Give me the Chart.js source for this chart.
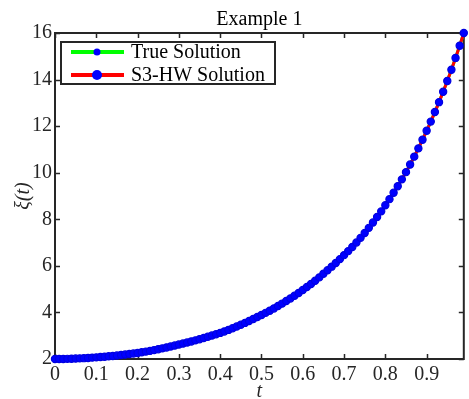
<!DOCTYPE html>
<html>
<head>
<meta charset="utf-8">
<script src="https://cdn.jsdelivr.net/npm/chart.js@4.4.0/dist/chart.umd.min.js"></script>
<style>
html, body { margin: 0; padding: 0; background: #fff; }
#wrap { width: 469px; height: 399px; }
</style>
</head>
<body>
<div id="wrap"><canvas id="solChart" width="469" height="399"></canvas></div>
<script>
// t values (grid of the solution)
const tValues = [
  0.00, 0.01, 0.02, 0.03, 0.04, 0.05, 0.06, 0.07, 0.08, 0.09,
  0.10, 0.11, 0.12, 0.13, 0.14, 0.15, 0.16, 0.17, 0.18, 0.19,
  0.20, 0.21, 0.22, 0.23, 0.24, 0.25, 0.26, 0.27, 0.28, 0.29,
  0.30, 0.31, 0.32, 0.33, 0.34, 0.35, 0.36, 0.37, 0.38, 0.39,
  0.40, 0.41, 0.42, 0.43, 0.44, 0.45, 0.46, 0.47, 0.48, 0.49,
  0.50, 0.51, 0.52, 0.53, 0.54, 0.55, 0.56, 0.57, 0.58, 0.59,
  0.60, 0.61, 0.62, 0.63, 0.64, 0.65, 0.66, 0.67, 0.68, 0.69,
  0.70, 0.71, 0.72, 0.73, 0.74, 0.75, 0.76, 0.77, 0.78, 0.79,
  0.80, 0.81, 0.82, 0.83, 0.84, 0.85, 0.86, 0.87, 0.88, 0.89,
  0.90, 0.91, 0.92, 0.93, 0.94, 0.95, 0.96, 0.97, 0.98, 0.99
];

// exact solution xi(t)
const trueSolution = [
  2.000, 2.001, 2.003, 2.007, 2.012, 2.019, 2.027, 2.036, 2.046, 2.058,
  2.070, 2.084, 2.099, 2.115, 2.132, 2.150, 2.170, 2.191, 2.213, 2.236,
  2.260, 2.288, 2.317, 2.348, 2.383, 2.420, 2.458, 2.497, 2.537, 2.578,
  2.620, 2.664, 2.708, 2.754, 2.801, 2.850, 2.901, 2.953, 3.007, 3.062,
  3.120, 3.184, 3.249, 3.320, 3.393, 3.470, 3.550, 3.632, 3.716, 3.802,
  3.890, 3.982, 4.075, 4.171, 4.274, 4.380, 4.488, 4.600, 4.716, 4.836,
  4.960, 5.090, 5.223, 5.360, 5.505, 5.660, 5.810, 5.965, 6.124, 6.290,
  6.460, 6.632, 6.812, 7.002, 7.202, 7.412, 7.632, 7.860, 8.096, 8.340,
  8.600, 8.865, 9.137, 9.420, 9.715, 10.025, 10.350, 10.690, 11.045, 11.415,
  11.800, 12.195, 12.605, 13.030, 13.475, 13.940, 14.425, 14.930, 15.455, 16.000
];

// S3-HW approximation (indistinguishable from the exact one at this scale)
const s3hwSolution = [
  2.000, 2.001, 2.003, 2.007, 2.012, 2.019, 2.027, 2.036, 2.046, 2.058,
  2.070, 2.084, 2.099, 2.115, 2.132, 2.150, 2.170, 2.191, 2.213, 2.236,
  2.260, 2.288, 2.317, 2.348, 2.383, 2.420, 2.458, 2.497, 2.537, 2.578,
  2.620, 2.664, 2.708, 2.754, 2.801, 2.850, 2.901, 2.953, 3.007, 3.062,
  3.120, 3.184, 3.249, 3.320, 3.393, 3.470, 3.550, 3.632, 3.716, 3.802,
  3.890, 3.982, 4.075, 4.171, 4.274, 4.380, 4.488, 4.600, 4.716, 4.836,
  4.960, 5.090, 5.223, 5.360, 5.505, 5.660, 5.810, 5.965, 6.124, 6.290,
  6.460, 6.632, 6.812, 7.002, 7.202, 7.412, 7.632, 7.860, 8.096, 8.340,
  8.600, 8.865, 9.137, 9.420, 9.715, 10.025, 10.350, 10.690, 11.045, 11.415,
  11.800, 12.195, 12.605, 13.030, 13.475, 13.940, 14.425, 14.930, 15.455, 16.000
];

const xTicks = [0, 0.1, 0.2, 0.3, 0.4, 0.5, 0.6, 0.7, 0.8, 0.9];
const yTicks = [2, 4, 6, 8, 10, 12, 14, 16];
const seriesNames = ['True Solution', 'S3-HW Solution'];

const axisColor = '#262626';
const fontFamily = '"Liberation Serif", "Times New Roman", serif';

function toPoints(xs, ys) {
    return xs.map((t, i) => ({ x: t, y: ys[i] }));
}

// box around the axes, inward ticks and the legend box
const framePlugin = {
    id: 'framePlugin',
    beforeDatasetsDraw(chart) {
        const { ctx, chartArea: a, scales } = chart;
        ctx.save();
        ctx.strokeStyle = axisColor;
        ctx.lineWidth = 1.5;
        ctx.beginPath();
        xTicks.forEach(v => {
            const px = Math.round(scales.x.getPixelForValue(v)) + 0.5;
            ctx.moveTo(px, a.bottom); ctx.lineTo(px, a.bottom - 5);
            ctx.moveTo(px, a.top); ctx.lineTo(px, a.top + 5);
        });
        yTicks.forEach(v => {
            const py = Math.round(scales.y.getPixelForValue(v)) + 0.5;
            ctx.moveTo(a.left, py); ctx.lineTo(a.left + 5, py);
            ctx.moveTo(a.right, py); ctx.lineTo(a.right - 5, py);
        });
        ctx.stroke();
        ctx.lineWidth = 2;
        ctx.strokeRect(a.left, a.top, a.right - a.left, a.bottom - a.top);
        ctx.restore();
    },
    afterDatasetsDraw(chart) {
        const { ctx, chartArea: a } = chart;
        const bx = a.left + 6, by = a.top + 9, bw = 214, bh = 42;
        ctx.save();
        ctx.fillStyle = '#fff';
        ctx.fillRect(bx, by, bw, bh);
        ctx.strokeStyle = axisColor;
        ctx.lineWidth = 2;
        ctx.strokeRect(bx, by, bw, bh);

        const rows = [
            { y: by + 10, line: '#00ff00', r: 3.5 },
            { y: by + 33, line: '#ff0000', r: 5 }
        ];
        rows.forEach((row, i) => {
            ctx.strokeStyle = row.line;
            ctx.lineWidth = 4;
            ctx.beginPath();
            ctx.moveTo(bx + 10, row.y);
            ctx.lineTo(bx + 63, row.y);
            ctx.stroke();
            ctx.fillStyle = '#0000ff';
            ctx.beginPath();
            ctx.arc(bx + 36, row.y, row.r, 0, Math.PI * 2);
            ctx.fill();
            ctx.fillStyle = '#000';
            ctx.font = '20px ' + fontFamily;
            ctx.textBaseline = 'middle';
            ctx.textAlign = 'left';
            ctx.fillText(seriesNames[i], bx + 70, row.y + 1);
        });
        ctx.restore();
    }
};

const ctx = document.getElementById('solChart').getContext('2d');
const chart = new Chart(ctx, {
    type: 'line',
    data: {
        datasets: [{
            label: seriesNames[0],
            data: toPoints(tValues, trueSolution),
            borderColor: '#00ff00',
            borderWidth: 3,
            pointRadius: 2,
            pointBackgroundColor: '#0000ff',
            pointBorderColor: '#0000ff',
            pointBorderWidth: 1,
            clip: false,
            order: 2
        }, {
            label: seriesNames[1],
            data: toPoints(tValues, s3hwSolution),
            borderColor: '#ff0000',
            borderWidth: 3,
            pointRadius: 3.6,
            pointBackgroundColor: '#0000ff',
            pointBorderColor: '#0000e0',
            pointBorderWidth: 1.2,
            clip: false,
            order: 1
        }]
    },
    options: {
        responsive: false,
        animation: false,
        devicePixelRatio: 1,
        layout: { padding: { top: 0, right: 2, bottom: 0, left: 0 } },
        plugins: {
            legend: { display: false },
            tooltip: { enabled: false },
            title: {
                display: true,
                text: 'Example 1',
                fullSize: false,
                color: '#000',
                font: { family: fontFamily, size: 20, weight: 'normal', lineHeight: 1.2 },
                padding: { top: 8, bottom: 1 }
            }
        },
        scales: {
            x: {
                type: 'linear',
                min: 0,
                max: 0.99,
                afterBuildTicks: s => { s.ticks = xTicks.map(v => ({ value: v })); },
                afterFit: s => { s.height = 40; },
                grid: { display: false, drawTicks: false },
                border: { display: false },
                ticks: {
                    padding: 4,
                    autoSkip: false,
                    color: axisColor,
                    maxRotation: 0,
                    font: { family: fontFamily, size: 20 },
                    callback: v => String(Math.round(v * 10) / 10)
                },
                title: {
                    display: true,
                    text: 't',
                    color: axisColor,
                    font: { family: fontFamily, size: 20, style: 'italic', lineHeight: 1 },
                    padding: { top: 0, bottom: -3 }
                }
            },
            y: {
                type: 'linear',
                min: 2,
                max: 16,
                afterBuildTicks: s => { s.ticks = yTicks.map(v => ({ value: v })); },
                afterFit: s => { s.width = 55; },
                grid: { display: false, drawTicks: false },
                border: { display: false },
                ticks: {
                    padding: 3,
                    autoSkip: false,
                    color: axisColor,
                    font: { family: fontFamily, size: 20 }
                },
                title: {
                    display: true,
                    text: 'ξ(t)',
                    color: axisColor,
                    font: { family: fontFamily, size: 20, style: 'italic', lineHeight: 1.2 },
                    padding: { top: 12, bottom: 0 }
                }
            }
        }
    },
    plugins: [framePlugin]
});
</script>
</body>
</html>
